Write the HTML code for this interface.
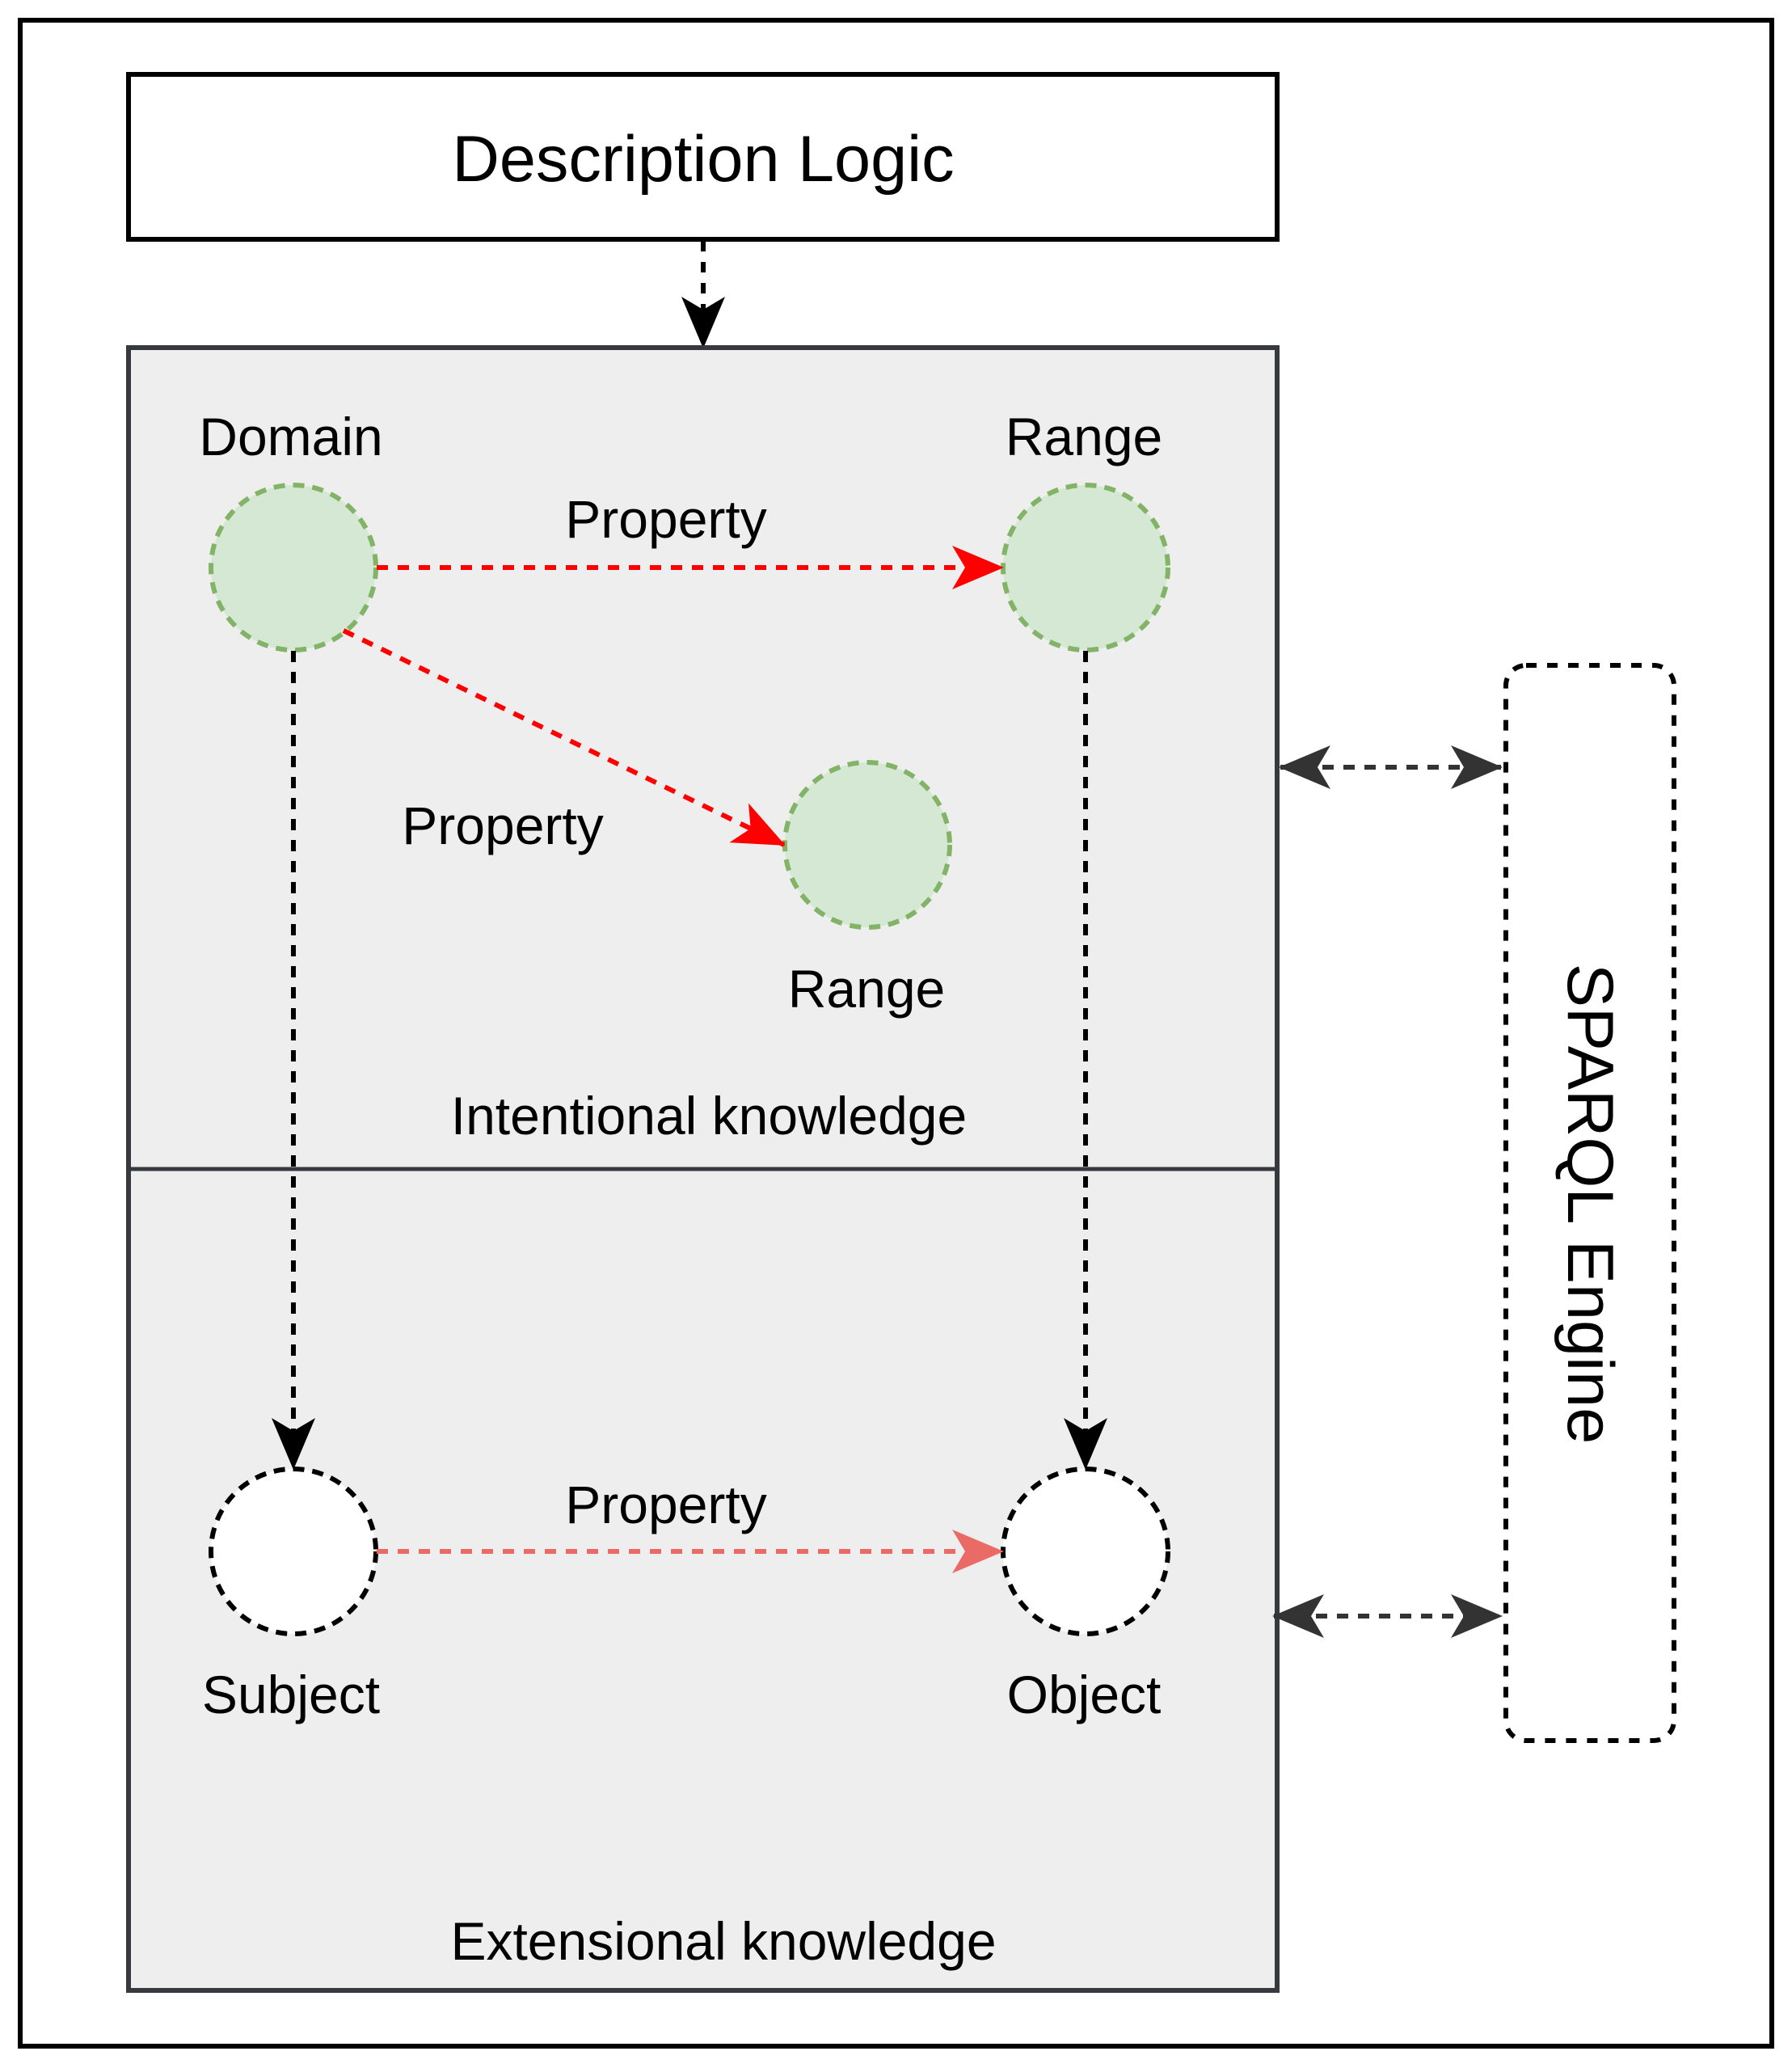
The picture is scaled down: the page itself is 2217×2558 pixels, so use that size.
<!DOCTYPE html>
<html><head><meta charset="utf-8"><style>body{margin:0;background:#fff}svg{display:block}text{font-family:"Liberation Sans",Arial,sans-serif}</style></head>
<body>
<svg width="2217" height="2558" viewBox="0 0 2217 2558" xmlns="http://www.w3.org/2000/svg">
<defs>
<marker id="ak" markerUnits="userSpaceOnUse" markerWidth="70" markerHeight="70" refX="64" refY="35" orient="auto"><path d="M2,8 L66,35 L2,62 L18,35 Z" fill="#000"/></marker>
<marker id="ad" markerUnits="userSpaceOnUse" markerWidth="70" markerHeight="70" refX="64" refY="35" orient="auto-start-reverse"><path d="M2,8 L66,35 L2,62 L18,35 Z" fill="#333"/></marker>
<marker id="ar" markerUnits="userSpaceOnUse" markerWidth="70" markerHeight="70" refX="64" refY="35" orient="auto"><path d="M2,8 L66,35 L2,62 L18,35 Z" fill="#ff0000"/></marker>
<marker id="ap" markerUnits="userSpaceOnUse" markerWidth="70" markerHeight="70" refX="64" refY="35" orient="auto"><path d="M2,8 L66,35 L2,62 L18,35 Z" fill="#ea6b66"/></marker>
</defs>
<rect x="25" y="25" width="2167" height="2506" fill="#fff" stroke="#000" stroke-width="6"/>
<rect x="159" y="92" width="1421" height="204" fill="#fff" stroke="#000" stroke-width="6"/>
<text x="870" y="224" font-size="81" text-anchor="middle">Description Logic</text>
<line x1="870" y1="298" x2="870" y2="429" stroke="#000" stroke-width="6" stroke-dasharray="13,13" marker-end="url(#ak)"/>
<rect x="159" y="430" width="1421" height="2032" fill="#eeeeee" stroke="#36393d" stroke-width="6"/>
<line x1="159" y1="1446" x2="1580" y2="1446" stroke="#36393d" stroke-width="5"/>
<g fill="#d5e8d4" stroke="#82b366" stroke-width="6" stroke-dasharray="14,10">
<circle cx="363" cy="702" r="102"/><circle cx="1343" cy="702" r="102"/><circle cx="1073" cy="1045" r="102"/>
</g>
<g fill="#fff" stroke="#000" stroke-width="6" stroke-dasharray="14,10">
<circle cx="363" cy="1919" r="102"/><circle cx="1343" cy="1919" r="102"/>
</g>
<g stroke-width="6" stroke-dasharray="14,12" fill="none">
<line x1="466" y1="702" x2="1240" y2="702" stroke="#ff0000" marker-end="url(#ar)"/>
<line x1="425" y1="780" x2="970" y2="1045" stroke="#ff0000" marker-end="url(#ar)"/>
<line x1="466" y1="1919" x2="1240" y2="1919" stroke="#ea6b66" marker-end="url(#ap)"/>
<line x1="363" y1="805" x2="363" y2="1816" stroke="#000" marker-end="url(#ak)"/>
<line x1="1343" y1="805" x2="1343" y2="1816" stroke="#000" marker-end="url(#ak)"/>
<line x1="1584" y1="949" x2="1857" y2="949" stroke="#333" marker-start="url(#ad)" marker-end="url(#ad)"/>
<line x1="1576" y1="1999" x2="1857" y2="1999" stroke="#333" marker-start="url(#ad)" marker-end="url(#ad)"/>
</g>
<rect x="1863" y="823" width="208" height="1330" rx="25" fill="#fff" stroke="#000" stroke-width="6" stroke-dasharray="13,13"/>
<text transform="translate(1968,1489) rotate(90)" font-size="81" text-anchor="middle" dy="28">SPARQL Engine</text>
<g font-size="66" text-anchor="middle">
<text x="360" y="563">Domain</text>
<text x="1341" y="563">Range</text>
<text x="824" y="665">Property</text>
<text x="622" y="1044">Property</text>
<text x="1072" y="1246">Range</text>
<text x="877" y="1403">Intentional knowledge</text>
<text x="824" y="1884">Property</text>
<text x="360" y="2119">Subject</text>
<text x="1341" y="2119">Object</text>
<text x="895" y="2424">Extensional knowledge</text>
</g>
</svg>
</body></html>
